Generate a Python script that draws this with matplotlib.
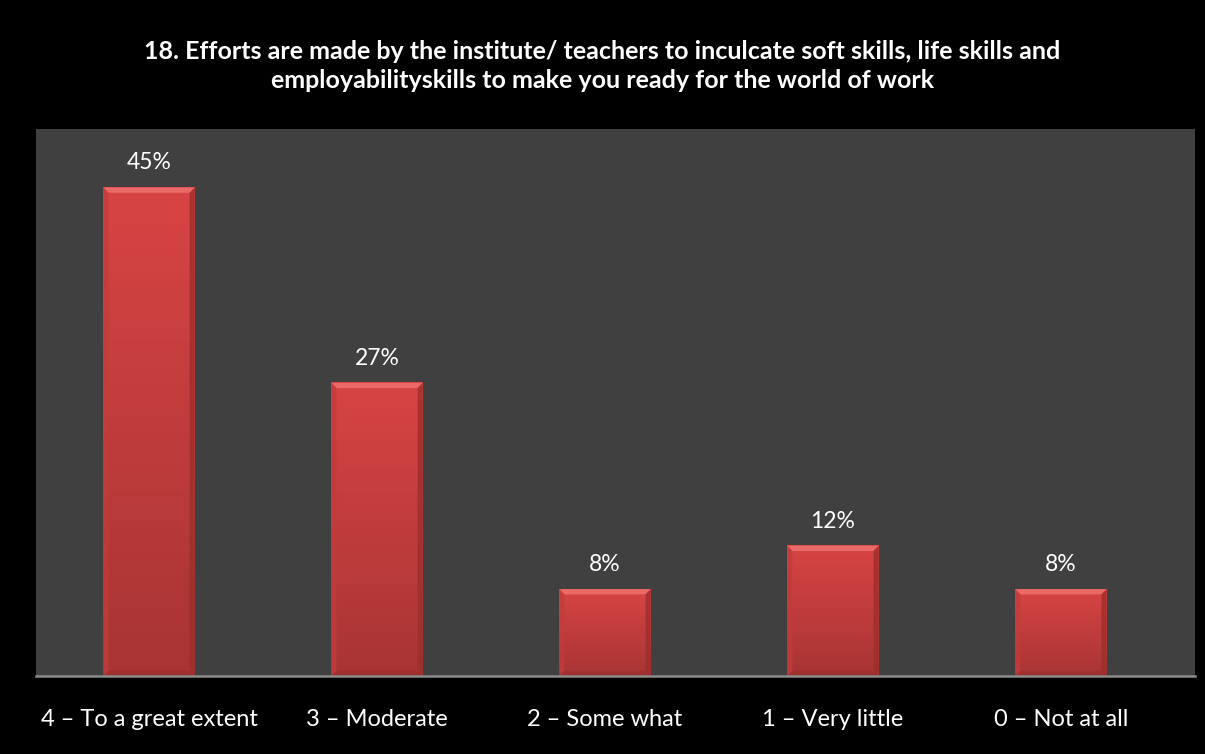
import numpy as np
import matplotlib.pyplot as plt
from matplotlib.colors import LinearSegmentedColormap

categories = ['4 – To a great extent', '3 – Moderate', '2 – Some what', '1 – Very little', '0 – Not at all']
values = [0.45, 0.27, 0.08, 0.12, 0.08]
value_labels = ['45%', '27%', '8%', '12%', '8%']
title = ('18. Efforts are made by the institute/ teachers to inculcate soft skills, life skills and\n'
         'employabilityskills to make you ready for the world of work')

plt.rcParams['font.family'] = ['Lato', 'DejaVu Sans']

fig = plt.figure(figsize=(12.05, 7.54), dpi=100, facecolor='black')
ax = fig.add_axes([36/1205, 1 - 676/754, 1159/1205, 547/754])
ax.set_facecolor('#404040')

x = np.arange(len(categories))
w = 0.4
bars = ax.bar(x, values, width=w, color='#c83c3c', zorder=2)

# vertical gradient inside each bar, plus bevelled edges
cmap = LinearSegmentedColormap.from_list('bar', ['#a83434', '#d84444'])
grad = np.linspace(0, 1, 256).reshape(-1, 1)
bx, by = 0.022, 0.0048
for b in bars:
    x0, y0 = b.get_x(), b.get_y()
    bw, bh = b.get_width(), b.get_height()
    x1, y1 = x0 + bw, y0 + bh
    ax.imshow(grad, extent=[x0, x1, y0, y1], origin='lower',
              cmap=cmap, aspect='auto', zorder=3)
    ax.fill([x0, x1, x1 - bx, x0 + bx], [y1, y1, y1 - by, y1 - by], color='#ea6a6a', lw=0, zorder=4)
    ax.fill([x0, x0 + bx, x0 + bx, x0], [y1, y1 - by, y0 + by, y0], color='#c23c3c', lw=0, zorder=4, alpha=0.8)
    ax.fill([x1, x1 - bx, x1 - bx, x1], [y1, y1 - by, y0 + by, y0], color='#9c2e2e', lw=0, zorder=4, alpha=0.8)
    ax.fill([x0, x1, x1 - bx, x0 + bx], [y0, y0, y0 + by, y0 + by], color='#a03030', lw=0, zorder=4)

for xi, v, lab in zip(x, values, value_labels):
    ax.text(xi, v + 0.013, lab, ha='center', va='bottom', color='white', fontsize=16.5)

ax.set_xlim(-0.496, 4.588)
ax.set_ylim(0, 0.504)
ax.set_yticks([])
ax.set_xticks(x)
ax.set_xticklabels(categories, color='white', fontsize=17)
ax.tick_params(axis='x', length=0, pad=24)
for s in ['top', 'right', 'left']:
    ax.spines[s].set_visible(False)
ax.spines['bottom'].set_color('#8c8c8c')
ax.spines['bottom'].set_linewidth(1.8)
ax.spines['bottom'].set_zorder(5)

fig.text(0.5, 1 - 66/754, title, ha='center', va='center', color='white',
         fontsize=18, fontweight='bold', linespacing=1.35)

fig.savefig('out.png', dpi=100, facecolor='black')
